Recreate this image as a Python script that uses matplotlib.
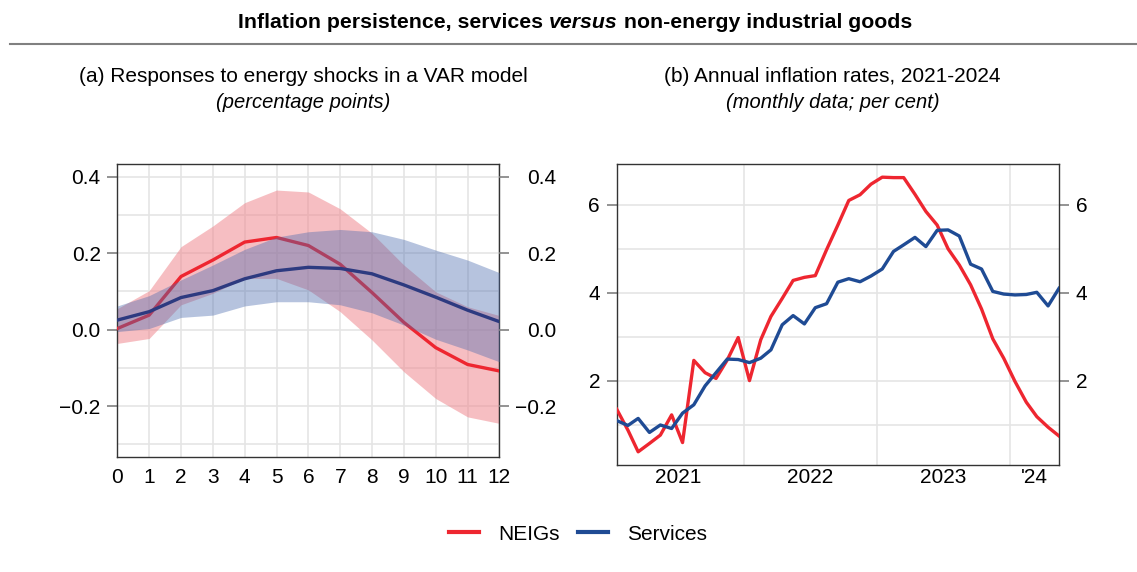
import numpy as np
import pandas as pd
import matplotlib
matplotlib.use('Agg')
import matplotlib.pyplot as plt
import matplotlib.dates as mdates
from matplotlib.ticker import MultipleLocator, FixedLocator, FixedFormatter, NullFormatter
from matplotlib.lines import Line2D

plt.rcParams['font.family'] = ['Liberation Sans', 'DejaVu Sans']

# (a) impulse responses, horizons 0..12
horizons = list(range(13))
neig_irf = [0.003, 0.038, 0.139, 0.182, 0.229, 0.241, 0.220, 0.171, 0.097, 0.019, -0.047, -0.091, -0.108]
neig_lo = [-0.036, -0.023, 0.065, 0.095, 0.134, 0.134, 0.104, 0.047, -0.027, -0.110, -0.180, -0.228, -0.245]
neig_hi = [0.055, 0.102, 0.217, 0.271, 0.332, 0.365, 0.360, 0.316, 0.252, 0.169, 0.099, 0.060, 0.037]
serv_irf = [0.025, 0.047, 0.084, 0.102, 0.133, 0.154, 0.163, 0.160, 0.146, 0.117, 0.085, 0.051, 0.021]
serv_lo = [-0.005, 0.003, 0.032, 0.038, 0.062, 0.073, 0.073, 0.065, 0.044, 0.012, -0.025, -0.053, -0.084]
serv_hi = [0.062, 0.089, 0.130, 0.169, 0.210, 0.242, 0.256, 0.262, 0.256, 0.236, 0.208, 0.182, 0.149]
irf_yticks = [-0.2, 0.0, 0.2, 0.4]

# (b) annual inflation, monthly Jan 2021 - May 2024
months = pd.date_range('2021-01-01', '2024-05-01', freq='MS') + pd.Timedelta(days=14)
neig_infl = [1.35, 0.87, 0.38, 0.57, 0.76, 1.22, 0.59, 2.46, 2.18, 2.05, 2.47, 2.98, 2.00,
             2.93, 3.46, 3.87, 4.28, 4.35, 4.39, 4.98, 5.54, 6.10, 6.23, 6.47, 6.63, 6.62,
             6.62, 6.24, 5.85, 5.54, 5.00, 4.63, 4.18, 3.63, 2.95, 2.51, 1.98, 1.51, 1.18,
             0.94, 0.74]
serv_infl = [1.09, 0.98, 1.14, 0.82, 0.99, 0.91, 1.26, 1.45, 1.88, 2.18, 2.49, 2.48, 2.41,
             2.51, 2.70, 3.27, 3.48, 3.29, 3.66, 3.75, 4.24, 4.32, 4.25, 4.38, 4.54, 4.94,
             5.09, 5.26, 5.05, 5.42, 5.43, 5.29, 4.65, 4.54, 4.03, 3.97, 3.95, 3.96, 4.01,
             3.70, 4.10]
year_labels = ['2021', '2022', '2023', "'24"]
year_label_pos = ['2021-07-02', '2022-07-02', '2023-07-02', '2024-03-08']
year_starts = ['2022-01-01', '2023-01-01', '2024-01-01']

RED = '#EE2630'
BLUE = '#1F4B94'
NAVY = '#2D3A80'
GRID = '#E5E5E5'
FS = 15

fig = plt.figure(figsize=(11.37, 5.72), dpi=100)


def style_axes(ax, xpad):
    for s in ax.spines.values():
        s.set_color('#333333')
        s.set_linewidth(1.0)
    ax.tick_params(axis='y', which='major', direction='out', length=7, width=1.2,
                   color='#808080', left=True, right=True, labelleft=True,
                   labelright=True, labelsize=FS, pad=5)
    ax.tick_params(axis='y', which='minor', length=0, left=False, right=False)
    ax.tick_params(axis='x', which='both', length=0, labelsize=FS, pad=xpad)
    ax.grid(True, which='both', color=GRID, linewidth=1.2)
    ax.set_axisbelow(True)


# panel (a)
ax1 = fig.add_axes([0.1032, 0.2010, 0.336, 0.5122])
ax1.fill_between(horizons, neig_lo, neig_hi, color='#F08A90', alpha=0.55, lw=0, zorder=2)
ax1.plot(horizons, neig_irf, color=RED, lw=2.4, zorder=3)
ax1.fill_between(horizons, serv_lo, serv_hi, color='#4A6BAE', alpha=0.4, lw=0, zorder=4)
ax1.plot(horizons, serv_irf, color=NAVY, lw=2.4, zorder=5)
ax1.set_xlim(0, 12)
ax1.set_ylim(-0.333, 0.433)
ax1.set_xticks(horizons)
ax1.yaxis.set_major_locator(FixedLocator(irf_yticks))
ax1.yaxis.set_minor_locator(MultipleLocator(0.1))
style_axes(ax1, 8)
ax1.tick_params(axis='y', labelright=False)

# right-hand labels of panel (a) are right-aligned
ax1r = ax1.twinx()
ax1r.set_ylim(ax1.get_ylim())
ax1r.yaxis.set_major_locator(FixedLocator(irf_yticks))
ax1r.tick_params(axis='y', direction='out', length=7, width=1.2, color='#808080',
                 labelsize=FS, pad=34)
for s in ax1r.spines.values():
    s.set_visible(False)
for lab in ax1r.get_yticklabels():
    lab.set_horizontalalignment('right')

# panel (b)
ax2 = fig.add_axes([0.5424, 0.1871, 0.389, 0.5262])
ax2.plot(months, neig_infl, color=RED, lw=2.4, zorder=3)
ax2.plot(months, serv_infl, color=BLUE, lw=2.4, zorder=4)
ax2.set_xlim(months[0], months[-1])
ax2.set_ylim(0.08, 6.93)
ax2.xaxis.set_major_locator(FixedLocator(mdates.date2num(pd.to_datetime(year_starts))))
ax2.xaxis.set_major_formatter(NullFormatter())
ax2.xaxis.set_minor_locator(FixedLocator(mdates.date2num(pd.to_datetime(year_label_pos))))
ax2.xaxis.set_minor_formatter(FixedFormatter(year_labels))
ax2.yaxis.set_major_locator(FixedLocator([2, 4, 6]))
ax2.yaxis.set_minor_locator(FixedLocator([1, 3, 5]))
style_axes(ax2, 2)
ax2.grid(False, axis='x', which='minor')

# titles
fig.text(303.5 / 1137, 1 - 76 / 572, '(a) Responses to energy shocks in a VAR model',
         ha='center', va='center', fontsize=FS)
fig.text(303.5 / 1137, 1 - 102 / 572, '(percentage points)', ha='center', va='center',
         fontsize=14.5, style='italic')
fig.text(832.5 / 1137, 1 - 76 / 572, '(b) Annual inflation rates, 2021-2024',
         ha='center', va='center', fontsize=FS)
fig.text(832.5 / 1137, 1 - 102 / 572, '(monthly data; per cent)', ha='center', va='center',
         fontsize=14.5, style='italic')

# main title in three pieces (italic "versus")
parts = [('Inflation persistence, services ', 'normal'), ('versus', 'italic'),
         (' non-energy industrial goods', 'normal')]
renderer = fig.canvas.get_renderer()
texts = []
for s, st in parts:
    t = fig.text(0, 1 - 22 / 572, s, ha='left', va='center', fontsize=15.3,
                 fontweight='bold', style=st)
    texts.append(t)
widths = [t.get_window_extent(renderer).width for t in texts]
x = 575 - sum(widths) / 2
for t, w in zip(texts, widths):
    t.set_x(x / 1137)
    x += w

fig.add_artist(Line2D([10 / 1137, 1], [1 - 44 / 572] * 2, color='#808080', lw=1.5))

# legend
handles = [Line2D([], [], color=RED, lw=3), Line2D([], [], color=BLUE, lw=3)]
fig.legend(handles, ['NEIGs', 'Services'], loc='center', bbox_to_anchor=(578 / 1137, 1 - 534 / 572),
           ncol=2, frameon=False, fontsize=FS, handlelength=1.45, handletextpad=0.9,
           columnspacing=0.9)

fig.savefig('out.png', dpi=100)
